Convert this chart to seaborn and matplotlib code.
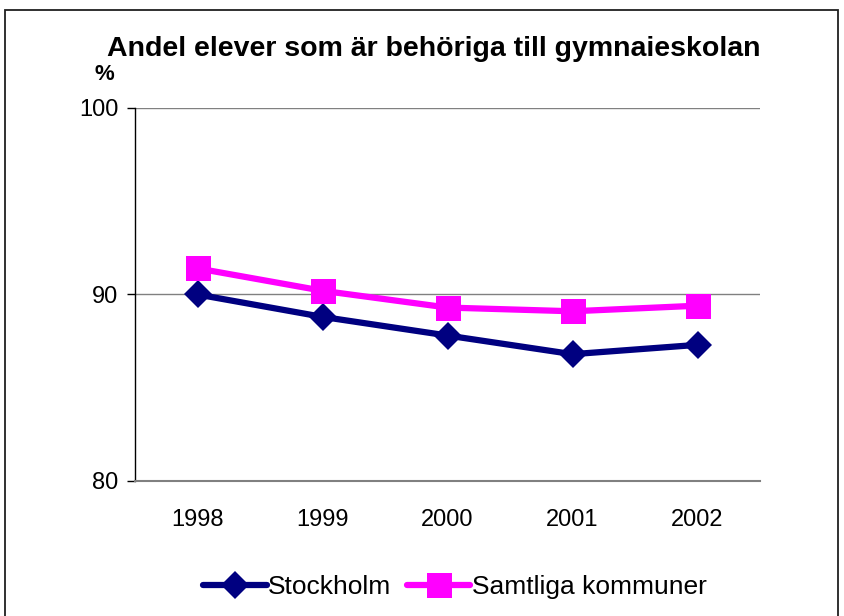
import pandas as pd
import numpy as np
import seaborn as sn
import matplotlib.pyplot as plt
from matplotlib.patches import Rectangle

# Data
years = [1998, 1999, 2000, 2001, 2002]
stockholm = [90.0, 88.8, 87.8, 86.8, 87.3]
samtliga = [91.4, 90.2, 89.3, 89.1, 89.4]
series_names = ["Stockholm", "Samtliga kommuner"]
y_ticks = [80, 90, 100]

sn.set_style("white")
plt.rcParams["font.family"] = ["Liberation Sans", "DejaVu Sans"]
plt.rcParams["text.color"] = "black"
plt.rcParams["xtick.labelcolor"] = "black"
plt.rcParams["ytick.labelcolor"] = "black"

fig = plt.figure(figsize=(8.44, 6.16), dpi=100)
ax = fig.add_axes([135 / 844, 1 - 481 / 616, (760 - 135) / 844, (481 - 108) / 616])

df = pd.DataFrame({"year": years, "Stockholm": stockholm, "Samtliga kommuner": samtliga})

# Draw the two lines
sn.lineplot(data=df, x="year", y="Stockholm", ax=ax, color="#000080", marker="D",
            markersize=14, markeredgewidth=0, linewidth=4.5, label=series_names[0])
sn.lineplot(data=df, x="year", y="Samtliga kommuner", ax=ax, color="#FF00FF", marker="s",
            markersize=18, markeredgewidth=0, linewidth=4.5, label=series_names[1])

ax.set_xlim(years[0] - 0.5, years[-1] + 0.5)
ax.set_ylim(80, 100)
ax.set_yticks(y_ticks)
ax.set_yticklabels([str(v) for v in y_ticks], fontsize=17)
ax.set_xticks(years)
ax.set_xticklabels([str(y) for y in years], fontsize=17)
ax.set_xticks(np.arange(years[0] - 0.5, years[-1] + 1, 1.0), minor=True)
ax.tick_params(axis="x", which="major", length=0, pad=20)
ax.tick_params(axis="x", which="minor", length=6, width=1, color="#808080", direction="out")
ax.tick_params(axis="y", length=6, width=1, color="black", direction="out", pad=6, left=True)
ax.set_xlabel("")
ax.set_ylabel("")

ax.grid(False)
for v in [90, 100]:
    ax.axhline(v, color="#808080", lw=1, zorder=0)

for s in ["top", "right"]:
    ax.spines[s].set_visible(False)
ax.spines["left"].set_color("black")
ax.spines["left"].set_linewidth(1)
ax.spines["bottom"].set_color("#808080")
ax.spines["bottom"].set_linewidth(1.5)

fig.text(434 / 844, 1 - 49 / 616, "Andel elever som är behöriga till gymnaieskolan",
         ha="center", va="center", fontsize=20.5, fontweight="bold", color="black")
fig.text(104 / 844, 1 - 75 / 616, "%", ha="center", va="center", fontsize=16,
         fontweight="bold", color="black")

ax.legend(loc="center", bbox_to_anchor=(455 / 844, 1 - 587 / 616), bbox_transform=fig.transFigure,
          ncol=2, frameon=False, fontsize=19, handlelength=2.4, handletextpad=0.05,
          columnspacing=0.6, borderpad=0, labelcolor="black")

# Outer frame
fig.add_artist(Rectangle((5 / 844, -0.1), (838 - 5) / 844, 1 - 10 / 616 + 0.1,
                         transform=fig.transFigure, fill=False, lw=1.3, ec="#202020"))

fig.savefig("out.png", dpi=100)
